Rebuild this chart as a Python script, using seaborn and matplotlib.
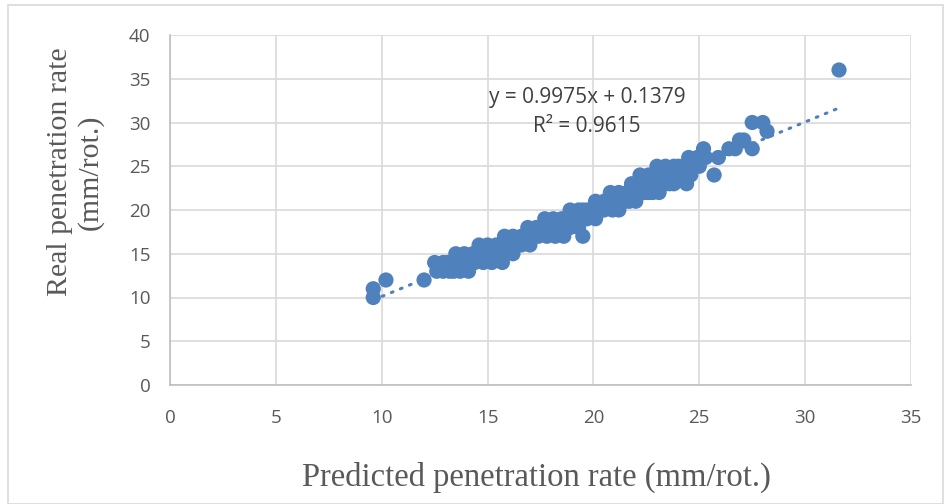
import matplotlib
matplotlib.use("Agg")
import matplotlib.pyplot as plt
import seaborn as sns
import pandas as pd
import numpy as np
from matplotlib.patches import Rectangle

# Measured vs. predicted penetration rate, grouped by measured value (mm/rot.)
predicted = [
    9.6,
    9.6,
    10.2, 12.0,
    12.6, 12.9, 13.2, 13.4, 13.7, 14.1,
    12.5, 12.9, 13.1, 13.6, 14.0, 14.2, 14.4, 14.8, 15.2, 15.7,
    13.5, 13.9, 14.3, 14.5, 14.7, 15.0, 15.2, 15.4, 15.8, 16.2,
    14.6, 15.0, 15.4, 15.8, 16.0, 16.2, 16.4, 16.6, 17.0,
    15.8, 16.2, 16.6, 16.8, 17.0, 17.2, 17.4, 17.8, 18.2, 18.6, 19.5,
    16.9, 17.3, 17.5, 17.7, 18.1, 18.3, 18.5, 18.9, 19.3,
    17.7, 18.1, 18.5, 18.7, 18.9, 19.1, 19.3, 19.7, 20.1,
    18.9, 19.3, 19.5, 19.7, 20.1, 20.3, 20.5, 20.9, 21.2,
    20.1, 20.5, 20.7, 20.9, 21.3, 21.5, 21.7, 22.0,
    20.8, 21.2, 21.6, 21.8, 22.0, 22.4, 22.6, 22.8, 23.1,
    21.8, 22.2, 22.6, 22.8, 23.0, 23.4, 23.6, 23.8, 24.4,
    22.2, 22.6, 23.0, 23.4, 23.6, 23.8, 24.2, 24.6, 25.7,
    23.0, 23.4, 23.8, 24.0, 24.2, 24.6, 25.0,
    24.5, 24.9, 25.3, 25.9,
    25.2, 26.4, 26.7, 27.5,
    26.9, 27.1,
    28.2,
    27.5, 28.0,
    31.6,
]
real = (
    [10] * 1 + [11] * 1 + [12] * 2 + [13] * 6 + [14] * 10 + [15] * 10
    + [16] * 9 + [17] * 11 + [18] * 9 + [19] * 9 + [20] * 9 + [21] * 8
    + [22] * 9 + [23] * 9 + [24] * 9 + [25] * 7 + [26] * 4 + [27] * 4
    + [28] * 2 + [29] * 1 + [30] * 2 + [36] * 1
)

# Linear trendline coefficients
slope = 0.9975
intercept = 0.1379
r_squared = 0.9615

x_ticks = [0, 5, 10, 15, 20, 25, 30, 35]
y_ticks = [0, 5, 10, 15, 20, 25, 30, 35, 40]

blue = "#4F81BD"
grid_gray = "#D9D9D9"
text_gray = "#595959"

df = pd.DataFrame({"predicted": predicted, "real": real})

sns.set_theme(style="white")
fig = plt.figure(figsize=(9.45, 5.04), dpi=100)
ax = fig.add_axes([170 / 945, 1 - 385 / 504, (911 - 170) / 945, (385 - 35) / 504])

sns.scatterplot(data=df, x="predicted", y="real", ax=ax, s=120, color=blue,
                edgecolor="none", linewidth=0, zorder=3)

x_fit = np.array([min(predicted), max(predicted)])
sns.lineplot(x=x_fit, y=slope * x_fit + intercept, ax=ax, color=blue,
             linewidth=2.2, linestyle=(0, (0.6, 2.6)), zorder=4,
             dash_capstyle="round")

ax.set_xlim(0, 35)
ax.set_ylim(0, 40)
ax.set_xticks(x_ticks)
ax.set_yticks(y_ticks)
ax.grid(True, color=grid_gray, linewidth=1.2, zorder=0)
ax.set_axisbelow(True)
for side in ["top", "right"]:
    ax.spines[side].set_visible(False)
for side in ["left", "bottom"]:
    ax.spines[side].set_color("#BFBFBF")
    ax.spines[side].set_linewidth(1.2)

ax.tick_params(axis="both", length=0, colors=text_gray)
ax.tick_params(axis="x", pad=17)
ax.tick_params(axis="y", pad=14)
for lbl in ax.get_xticklabels() + ax.get_yticklabels():
    lbl.set_fontfamily(["Open Sans", "DejaVu Sans"])
    lbl.set_fontsize(13.5)

serif = ["Liberation Serif", "DejaVu Serif"]
ax.set_xlabel("Predicted penetration rate (mm/rot.)", family=serif,
              fontsize=23.5, color=text_gray, labelpad=0)
ax.set_ylabel("Real penetration rate\n(mm/rot.)", family=serif,
              fontsize=21.5, color=text_gray, labelpad=0, linespacing=1.2)
ax.xaxis.set_label_coords((536 - 170) / (911 - 170), (385 - 462) / 350)
ax.yaxis.set_label_coords((104 - 170) / (911 - 170), (385 - 172) / 350)

ax.text(19.7, 31.2, f"y = {slope}x + {intercept}\nR\u00b2 = {r_squared}",
        ha="center", va="center", fontsize=15, color="#404040",
        family=["Open Sans", "DejaVu Sans"], linespacing=1.45, zorder=5)

fig.patches.append(Rectangle((8 / 945, 0), 1 - 10 / 945, 1 - 5 / 504,
                             transform=fig.transFigure, fill=False,
                             edgecolor="#D9D9D9", linewidth=1.2))

fig.savefig("out.png", dpi=100)
